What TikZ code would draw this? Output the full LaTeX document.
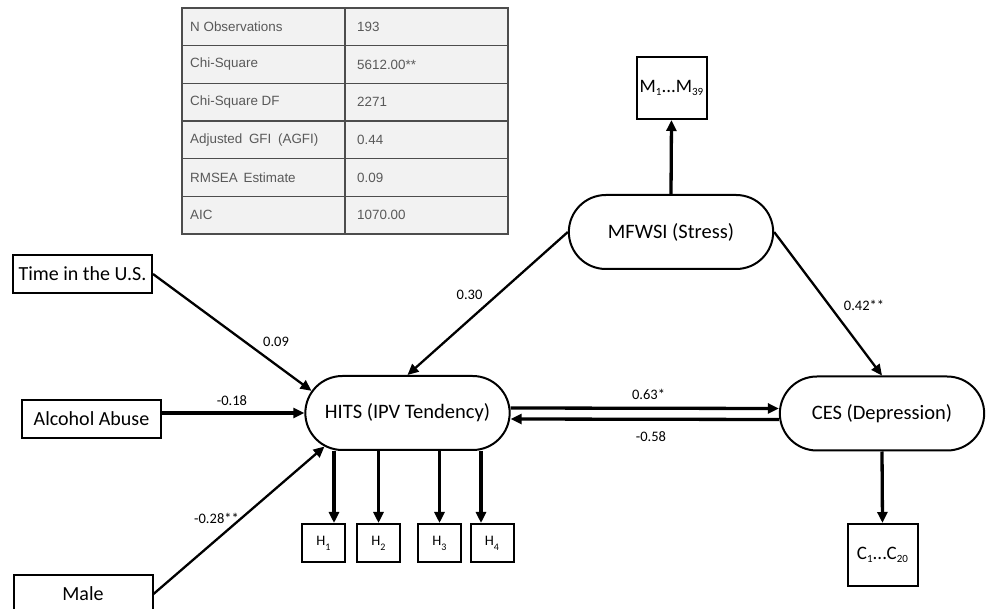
\documentclass[tikz,border=0pt]{standalone}
\usepackage{fontspec}
\setmainfont{Carlito}
\newfontfamily\tabfont{Liberation Sans}
\usetikzlibrary{arrows.meta,shapes.misc,positioning}

\definecolor{tabfill}{HTML}{F2F2F2}
\definecolor{tabline}{HTML}{4D4D4D}
\definecolor{tabtext}{HTML}{595959}

% low subscripts as in the figure
\newcommand{\sbx}[1]{\raisebox{-3pt}{\fontsize{11}{12}\selectfont #1}}
\newcommand{\hsb}[1]{\raisebox{-5pt}{\fontsize{10}{11}\selectfont #1}}

\tikzset{
	latent/.style={rounded rectangle, draw, line width=2pt, minimum width=211pt, minimum height=74pt, font=\fontsize{20.5}{24}\selectfont},
	obsbox/.style={draw, line width=2pt, minimum width=139pt, minimum height=38pt, inner sep=0pt, font=\fontsize{20}{24}\selectfont},
	itembox/.style={draw, line width=2pt, minimum width=43pt, minimum height=38pt, inner sep=0pt, font=\fontsize{14.5}{16}\selectfont},
	indbox/.style={draw, line width=2pt, minimum width=70pt, minimum height=62pt, inner sep=0pt, font=\fontsize{19}{22}\selectfont},
	arr/.style={line width=2.3pt, -{Triangle[length=11pt,width=10pt]}},
	thickarr/.style={line width=3.3pt, -{Triangle[length=11pt,width=10pt]}},
	coef/.style={font=\fontsize{14.5}{16}\selectfont, inner sep=0pt},
	tabtxt/.style={font=\tabfont\fontsize{13.4}{15}\selectfont, text=tabtext, anchor=west, inner sep=0pt},
	tabrule/.style={draw=tabline, line width=1.2pt}
}

\begin{document}
\begin{tikzpicture}[x=1pt,y=1pt]
		\useasboundingbox (0,0) rectangle (988,608);
		
		% fit table
		\fill[tabfill] (182,374) rectangle (508,600);
		\draw[tabrule] (182,374) rectangle (508,600);
		\draw[tabrule] (182,562.3) -- (508,562.3);
		\draw[tabrule] (182,524.7) -- (508,524.7);
		\draw[tabrule] (182,487) -- (508,487);
		\draw[tabrule] (182,449.3) -- (508,449.3);
		\draw[tabrule] (182,411.7) -- (508,411.7);
		\draw[tabrule, line width=1.6pt] (345,374) -- (345,600);
		
		\node[tabtxt] (nobs) at (190,581.2) {N Observations};
		\node[tabtxt] (nobsv) at (357,581.2) {193};
		\node[tabtxt] (chisq) at (190,543.5) {Chi-Square};
		\node[tabtxt] (chisqv) at (357,543.5) {5612.00**};
		\node[tabtxt] (chidf) at (190,505.8) {Chi-Square DF};
		\node[tabtxt] (chidfv) at (357,505.8) {2271};
		\node[tabtxt] (agfi) at (190,468.2) {Adjusted\hspace{3pt} GFI\hspace{3pt} (AGFI)};
		\node[tabtxt] (agfiv) at (357,468.2) {0.44};
		\node[tabtxt] (rmsea) at (190,430.5) {RMSEA\hspace{2pt} Estimate};
		\node[tabtxt] (rmseav) at (357,430.5) {0.09};
		\node[tabtxt] (aic) at (190,392.8) {AIC};
		\node[tabtxt] (aicv) at (357,392.8) {1070.00};
		
		% latent variables
		\node[latent] (hits) at (407.5,195) {HITS (IPV Tendency)};
		\node[latent] (mfwsi) at (671,376) {MFWSI (Stress)};
		\node[latent] (ces) at (882,194.5) {CES (Depression)};
		
		% observed predictors
		\node[obsbox] (time) at (82.5,334) {Time in the U.S.};
		\node[obsbox] (alcohol) at (91.5,189) {Alcohol Abuse};
		\node[obsbox] (male) at (83,14) {Male};
		
		% indicators
		\node[indbox] (mitems) at (671.5,520) {M\sbx{1}...M\sbx{39}};
		\node[indbox] (citems) at (882.5,53) {C\sbx{1}...C\sbx{20}};
		\node[itembox] (h1) at (323.5,65) {H\hsb{1}};
		\node[itembox] (h2) at (378.5,65) {H\hsb{2}};
		\node[itembox] (h3) at (439.5,65) {H\hsb{3}};
		\node[itembox] (h4) at (492,65) {H\hsb{4}};
		\coordinate (h1in) at ([xshift=10.5pt]h1.north);
		\coordinate (h4in) at ([xshift=-11pt]h4.north);
		
		% paths
		\draw[arr] (time.east) -- (hits.167);
		\draw[thickarr] (alcohol.east |- hits.west) -- (hits.west);
		\draw[arr] (male.east) -- (hits.202);
		\draw[arr] (mfwsi.west) -- (hits.north);
		\draw[arr] (mfwsi.east) -- (ces.north);
		\draw[thickarr] ([yshift=5pt]hits.east) -- ([yshift=5pt]ces.west);
		\draw[thickarr] ([yshift=-6pt]ces.west) -- ([yshift=-6pt]hits.east);
		
		\draw[thickarr] (mfwsi.north) -- (mitems.south);
		\draw[thickarr] (ces.south) -- (citems.north);
		\draw[thickarr] (hits.south -| h1in) -- (h1in);
		\draw[thickarr] (hits.south -| h2.north) -- (h2.north);
		\draw[thickarr] (hits.south -| h3.north) -- (h3.north);
		\draw[thickarr] (hits.south -| h4in) -- (h4in);
		
		% coefficients
		\node[coef] (c09) at (276,266) {0.09};
		\node[coef] (c18) at (232,207) {-0.18};
		\node[coef] (c28) at (216.5,90) {-0.28**};
		\node[coef] (c30) at (469.5,313) {0.30};
		\node[coef] (c42) at (864,303) {0.42**};
		\node[coef] (c63) at (648.5,214) {0.63*};
		\node[coef] (c58) at (651,171) {-0.58};
		
\end{tikzpicture}
\end{document}
